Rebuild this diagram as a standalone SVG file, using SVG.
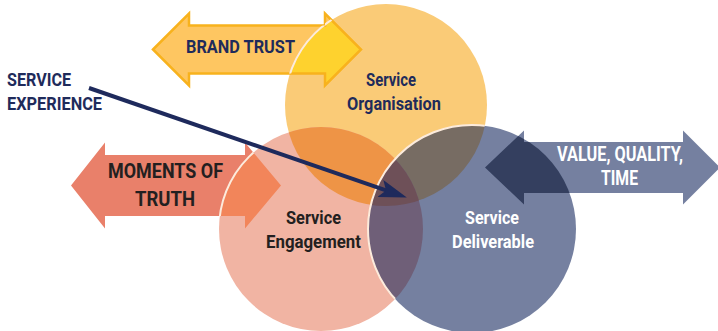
<svg xmlns="http://www.w3.org/2000/svg" width="718" height="331" viewBox="0 0 718 331">
  <style>
    .lbl { font-family: Roboto, "Liberation Sans", sans-serif; font-weight: 700; }
    .navy { fill: #1F2B5B; }
    .dark { fill: #231F20; }
    .white { fill: #FFFFFF; }
    .edge { fill: none; stroke: #FCEBDC; stroke-width: 2; }
  </style>
  <defs>
    <circle id="cY" cx="386" cy="105" r="101"/>
    <circle id="cP" cx="321" cy="229" r="102"/>
    <circle id="cB" cx="472" cy="229" r="104"/>
    <polygon id="aBrand" points="153,49.5 189,13.5 189,25.5 325,25.5 325,13.5 361,49.5 325,85.5 325,73.5 189,73.5 189,85.5"/>
    <polygon id="aMoments" points="71,185.5 105,142.5 105,155 245,155 245,142.5 281,185.5 245,228.5 245,216 105,216 105,228.5"/>
    <polygon id="aValue" points="485,167.5 524,130.5 524,142 683,142 683,130.5 720,167.5 683,204.5 683,193 524,193 524,204.5"/>
    <clipPath id="clipY"><use href="#cY"/></clipPath>
    <clipPath id="clipP"><use href="#cP"/></clipPath>
    <clipPath id="clipB"><use href="#cB"/></clipPath>
    <clipPath id="clipYP"><use href="#cY"/><use href="#cP"/></clipPath>
    <clipPath id="clipBrand"><use href="#aBrand"/></clipPath>
    <clipPath id="clipMoments"><use href="#aMoments"/></clipPath>
    <marker id="head" viewBox="0 0 28 18" refX="16" refY="9" markerWidth="28" markerHeight="18" markerUnits="userSpaceOnUse" orient="auto">
      <path d="M0,0 L28,9 L0,18 L6,9 z" fill="#1E2A5C"/>
    </marker>
  </defs>

  <!-- double-headed arrows -->
  <g id="brand-trust">
    <use href="#aBrand" fill="#FEC661" stroke="#F8B21D" stroke-width="2.5"/>
  </g>
  <g id="moments-of-truth">
    <use href="#aMoments" fill="#E9806A"/>
  </g>
  <g id="value-quality-time">
    <use href="#aValue" fill="#7580A0"/>
  </g>

  <!-- the three circles -->
  <g id="service-organisation">
    <use href="#cY" fill="#FACB77"/>
  </g>
  <g id="service-engagement">
    <use href="#cP" fill="#F1B4A3"/>
  </g>
  <g id="service-deliverable">
    <use href="#cB" fill="#7580A0"/>
  </g>

  <!-- shared areas -->
  <g id="overlaps">
    <use href="#cY" fill="#EE9446" clip-path="url(#clipP)"/>
    <use href="#cY" fill="#776C63" clip-path="url(#clipB)"/>
    <use href="#cP" fill="#6F5F78" clip-path="url(#clipB)"/>
    <g clip-path="url(#clipB)">
      <use href="#cY" fill="#6E5058" clip-path="url(#clipP)"/>
    </g>
    <use href="#aBrand" fill="#FED22E" stroke="#F8B21D" stroke-width="2.5" clip-path="url(#clipY)"/>
    <use href="#aMoments" fill="#F2855A" clip-path="url(#clipP)"/>
    <use href="#aValue" fill="#343F5F" clip-path="url(#clipB)"/>
    <use href="#cY" class="edge" clip-path="url(#clipBrand)"/>
    <use href="#cP" class="edge" clip-path="url(#clipMoments)"/>
    <use href="#cB" class="edge" clip-path="url(#clipYP)"/>
  </g>

  <!-- labels -->
  <g id="labels">
    <text class="lbl navy" x="186" y="53" font-size="17.5" textLength="109" lengthAdjust="spacingAndGlyphs">BRAND TRUST</text>
    <text class="lbl dark" x="108" y="178" font-size="19.5" textLength="115" lengthAdjust="spacingAndGlyphs">MOMENTS OF</text>
    <text class="lbl dark" x="135" y="206" font-size="19.5" textLength="60" lengthAdjust="spacingAndGlyphs">TRUTH</text>
    <text class="lbl white" x="557" y="161" font-size="19.5" textLength="126" lengthAdjust="spacingAndGlyphs">VALUE, QUALITY,</text>
    <text class="lbl white" x="601" y="185" font-size="19.5" textLength="37" lengthAdjust="spacingAndGlyphs">TIME</text>
    <text class="lbl navy" x="366" y="86" font-size="19" textLength="50" lengthAdjust="spacingAndGlyphs">Service</text>
    <text class="lbl navy" x="347" y="110" font-size="19" textLength="94" lengthAdjust="spacingAndGlyphs">Organisation</text>
    <text class="lbl dark" x="286" y="224" font-size="19" textLength="55" lengthAdjust="spacingAndGlyphs">Service</text>
    <text class="lbl dark" x="266" y="248" font-size="19" textLength="95" lengthAdjust="spacingAndGlyphs">Engagement</text>
    <text class="lbl white" x="465" y="224" font-size="19" textLength="54" lengthAdjust="spacingAndGlyphs">Service</text>
    <text class="lbl white" x="452" y="248" font-size="19" textLength="82" lengthAdjust="spacingAndGlyphs">Deliverable</text>
  </g>

  <g id="service-experience">
    <text class="lbl navy" x="7" y="86" font-size="17.5" textLength="64" lengthAdjust="spacingAndGlyphs">SERVICE</text>
    <text class="lbl navy" x="7" y="110" font-size="17.5" textLength="95" lengthAdjust="spacingAndGlyphs">EXPERIENCE</text>
  </g>

  <!-- connector -->
  <g id="connectors">
    <line x1="89" y1="88" x2="395.5" y2="193.7" stroke="#1E2A5C" stroke-width="4" marker-end="url(#head)"/>
  </g>
</svg>
